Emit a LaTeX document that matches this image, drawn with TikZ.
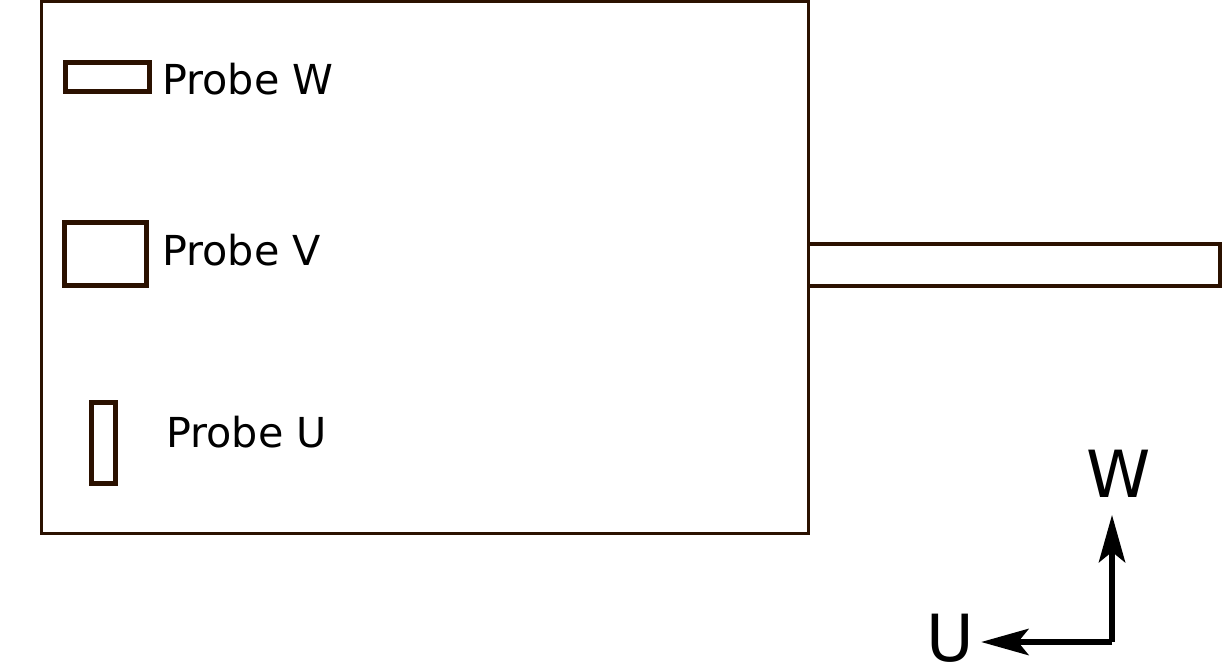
\documentclass[tikz,border=0pt]{standalone}
\usepackage{fontspec}
\setmainfont{DejaVu Sans}
\usetikzlibrary{arrows.meta}
\definecolor{boxbrown}{HTML}{2B1100}

\begin{document}
\begin{tikzpicture}[x=0.02cm, y=0.02cm]
    \tikzstyle{every node}+=[inner sep=0pt]
    \tikzstyle{outline}=[draw=boxbrown, line width=2pt]
    \tikzstyle{probe}=[draw=boxbrown, line width=2.9pt]
    \tikzstyle{probelabel}=[anchor=base west, font=\fontsize{23.5}{28}\selectfont]
    \tikzstyle{axislabel}=[font=\fontsize{37}{44}\selectfont]
    \tikzstyle{axis}=[black, line width=3pt, -{Stealth[length=27pt,width=15pt,inset=6pt]}]
    \useasboundingbox (0,0) rectangle (1222,-665);
    % tank and bar
    \draw [outline] (41.5,-1.5) rectangle (808.5,-533.5);
    \draw [outline] (808.5,-244) -- (1220,-244) -- (1220,-286) -- (808.5,-286);
    % probes
    \draw [probe] (65.5,-62.5) rectangle (149.5,-91.5);
    \node [probelabel] (labW) at (162,-95) {Probe W};
    \draw [probe] (64.5,-222.5) rectangle (146.5,-285.5);
    \node [probelabel] (labV) at (162,-266) {Probe V};
    \draw [probe] (91.5,-402.5) rectangle (115.5,-483.5);
    \node [probelabel] (labU) at (166,-447) {Probe U};
    % axes
    \coordinate (axo) at (1112,-642);
    \node [axislabel, anchor=base] (axW) at (1119,-497) {W};
    \node [axislabel, anchor=base] (axU) at (950,-661) {U};
    \draw [axis, shorten >=10pt] (axo) -- (axo |- axW.south);
    \draw [axis, shorten >=4pt] (axo) -- (axo -| axU.east);
\end{tikzpicture}
\end{document}
